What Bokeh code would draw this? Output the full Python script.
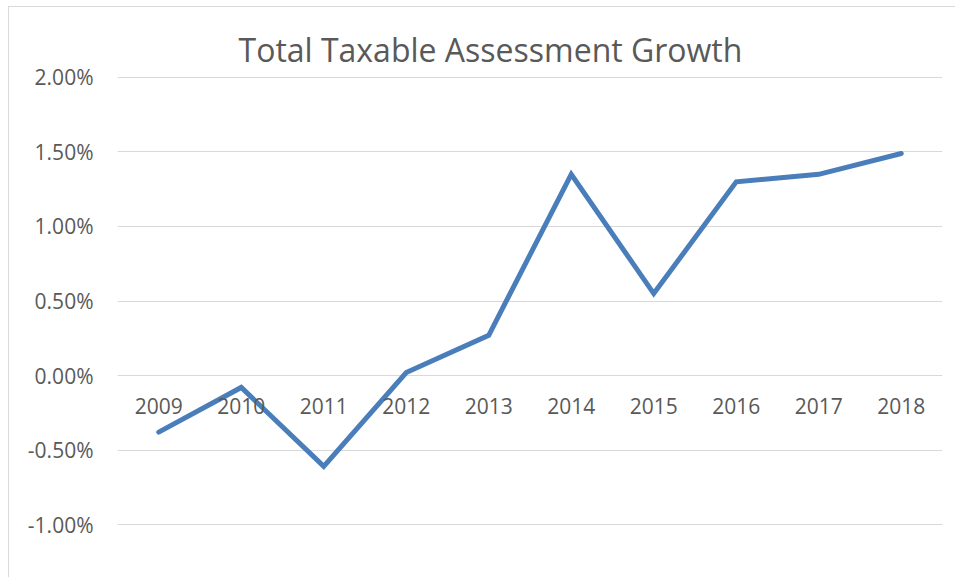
from bokeh.plotting import figure
from bokeh.models import FactorRange, Range1d, NumeralTickFormatter, SingleIntervalTicker, Title
from bokeh.embed import file_html
from bokeh.resources import INLINE

years = ["2009", "2010", "2011", "2012", "2013", "2014", "2015", "2016", "2017", "2018"]
growth = [-0.0038, -0.0008, -0.0061, 0.0002, 0.0027, 0.0135, 0.0055, 0.0130, 0.0135, 0.0149]

FONT = "Open Sans"
TXT = "#595959"

p = figure(width=947, height=571, output_backend="svg", toolbar_location=None,
           x_range=FactorRange(*years, range_padding=0), y_range=Range1d(-0.0102, 0.0202),
           min_border_left=108, min_border_right=14, min_border_top=67, min_border_bottom=51)
p.styles = {"border-left": "1px solid #d9d9d9", "border-top": "1px solid #d9d9d9",
            "margin": "6px 0 0 8px"}
p.outline_line_color = None

t = Title(text="Total Taxable Assessment Growth", align="left", offset=121,
          text_font=FONT, text_font_size="32px", text_font_style="normal",
          text_color=TXT, standoff=8)
p.add_layout(t, "above")

p.line(years, growth, line_color="#4a7ebb", line_width=5, line_cap="round", line_join="miter")

p.yaxis.ticker = SingleIntervalTicker(interval=0.005)
p.yaxis.formatter = NumeralTickFormatter(format="0.00%")
p.yaxis.axis_line_color = None
p.yaxis.major_tick_line_color = None
p.yaxis.minor_tick_line_color = None
p.yaxis.major_label_standoff = 18
p.yaxis.major_label_text_font = FONT
p.yaxis.major_label_text_font_size = "21px"
p.yaxis.major_label_text_color = TXT

p.xaxis.fixed_location = 0
p.xaxis.axis_line_color = None
p.xaxis.major_tick_line_color = None
p.xaxis.minor_tick_line_color = None
p.xaxis.major_label_standoff = 16
p.xaxis.major_label_text_font = FONT
p.xaxis.major_label_text_font_size = "21px"
p.xaxis.major_label_text_color = TXT

p.xgrid.grid_line_color = None
p.ygrid.grid_line_color = "#d9d9d9"
p.ygrid.grid_line_width = 1

open("out.html", "w").write(file_html(p, INLINE))
